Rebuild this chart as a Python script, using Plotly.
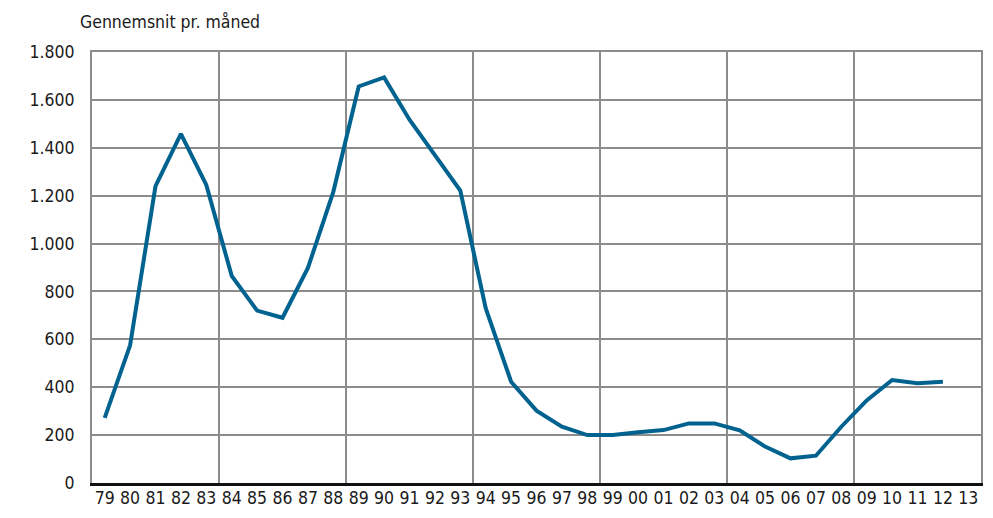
import plotly.graph_objects as go

years = ["79","80","81","82","83","84","85","86","87","88","89","90","91","92","93","94","95","96","97","98",
         "99","00","01","02","03","04","05","06","07","08","09","10","11","12","13"]
values = [272, 575, 1240, 1458, 1245, 865, 720, 690, 898, 1216, 1656, 1694, 1517, 1371, 1221, 730, 423, 302, 235, 200,
          200, 212, 221, 249, 249, 220, 152, 103, 114, 235, 345, 430, 417, 423, None]
y_ticks = [0, 200, 400, 600, 800, 1000, 1200, 1400, 1600, 1800]

pos = list(range(len(years)))
FONT = "DejaVu Sans Condensed"
GRID = "#8c8c8c"
XR = [-0.5, len(years) - 0.5]

fig = go.Figure()
fig.add_trace(go.Scatter(x=pos, y=values, mode="lines",
                         line=dict(color="#00628f", width=4), connectgaps=False,
                         hoverinfo="skip", showlegend=False))
# invisible companion trace so the overlaid bottom axis (black baseline) is drawn
fig.add_trace(go.Scatter(x=pos, y=values, mode="lines", xaxis="x2", opacity=0,
                         line=dict(width=0), hoverinfo="skip", showlegend=False))

# the page adds an 8px body margin, so the figure is sized and offset to compensate
fig.update_layout(
    width=985, height=510,
    margin=dict(l=84, r=12, t=44, b=35, autoexpand=False),
    paper_bgcolor="white", plot_bgcolor="white",
    separators=",.",
    font=dict(family=FONT, size=17.5, color="#1a1a1a"),
    xaxis=dict(range=XR, tickmode="array", tickvals=pos, ticktext=years,
               showgrid=False, zeroline=False, ticks="", ticklabelstandoff=-2,
               showline=True, linecolor=GRID, linewidth=1.8, mirror=True, automargin=False,
               minor=dict(tick0=-0.5, dtick=5, showgrid=True, gridcolor=GRID, gridwidth=1.8),
               tickfont=dict(family=FONT, size=17.5)),
    xaxis2=dict(range=XR, overlaying="x", anchor="y", side="bottom", showgrid=False,
                zeroline=False, showticklabels=False, ticks="", automargin=False,
                showline=True, linecolor="#111111", linewidth=2.5),
    yaxis=dict(range=[0, 1800], tickmode="array", tickvals=y_ticks, tickformat=",d",
               showgrid=True, gridcolor=GRID, gridwidth=1.8, zeroline=False, automargin=False,
               showline=True, linecolor=GRID, linewidth=1.8, mirror=True,
               ticks="", ticklabelstandoff=12,
               tickfont=dict(family=FONT, size=17.5)),
    annotations=[dict(text="Gennemsnit pr. måned", xref="paper", yref="paper",
                      x=-14 / 889, y=1.07, xanchor="left", yanchor="middle", showarrow=False,
                      font=dict(family=FONT, size=17.5, color="#1a1a1a"))],
)

fig.write_html("out.html")
